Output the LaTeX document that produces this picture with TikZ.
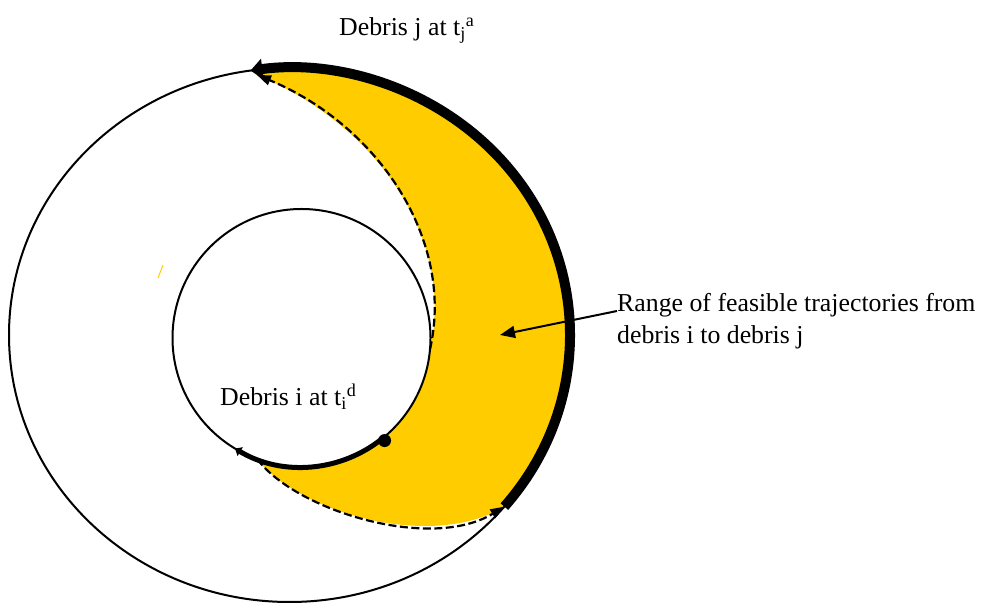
\documentclass[tikz,border=0pt]{standalone}
\usepackage{fontspec}
\setmainfont{Liberation Serif}
\usetikzlibrary{arrows.meta,calc}
\definecolor{rangeyellow}{HTML}{FFCC00}
\definecolor{inkblack}{HTML}{000000}
\tikzset{
  orbit/.style    = {draw=inkblack, line width=2pt},
  window/.style   = {draw=inkblack, line width=10pt},
  depart/.style   = {draw=inkblack, line width=5pt},
  transfer/.style = {draw=inkblack, line width=2.2pt, dash pattern=on 8pt off 3.5pt,
                     -{Triangle[length=14pt,width=10pt]}},
  pointer/.style  = {-{Triangle[length=15pt,width=12pt]}, draw=inkblack, line width=2pt},
  debdot/.style   = {circle, fill=inkblack, minimum size=13pt, inner sep=0pt},
  lbl/.style      = {font=\fontsize{25.8}{32}\selectfont, inner sep=0pt},
}

\begin{document}
\begin{tikzpicture}[x=1pt,y=1pt]
  \useasboundingbox (0,0) rectangle (984,604);
  \coordinate (O) at (289.5,269); % orbit of debris j
  \coordinate (I) at (301.5,266); % orbit of debris i
  \coordinate (jtop) at ([shift={(O)}]98:280.5 and 267);
  \coordinate (jbot) at ([shift={(O)}]-40:280.5 and 267);
  \coordinate (jarr) at (257,529);
  \coordinate (idep1) at ([shift={(I)}]-5:129);
  \coordinate (idep2) at ([shift={(I)}]-110:129);
  % feasible region
  \fill[rangeyellow] (jtop) arc[start angle=98, end angle=-40, x radius=280.5, y radius=267]
    .. controls (430,52) and (295,94) .. (idep2)
    arc[start angle=-110, end angle=-5, radius=129]
    .. controls (455,364) and (378,479) .. (jarr) -- cycle;
  \draw[rangeyellow, line width=1pt] (158,326) -- (163,339);
  \draw[orbit] (O) ellipse[x radius=280.5, y radius=267];
  \draw[orbit] (I) circle[radius=129];
  \draw[window, -{Triangle[length=12pt,width=20pt]}] (jbot)
    arc[start angle=-40, end angle=98, x radius=280.5, y radius=267];
  \draw[depart, -{Triangle[length=6pt,width=10pt]}] ([shift={(I)}]-50:129)
    arc[start angle=-50, end angle=-121, radius=129];
  \node[debdot] (debi) at ([shift={(I)}]-51:132) {};
  \draw[transfer] (idep1) .. controls (455,364) and (378,479) .. (jarr);
  \draw[transfer] (idep2) .. controls (295,94) and (430,52) .. (jbot);
  % labels
  \node[lbl, anchor=base west] (labj) at (339,568)
    {Debris j at t\textsubscript{j}\textsuperscript{a}};
  \node[lbl, anchor=base west] (labi) at (220,198)
    {Debris i at t\textsubscript{i}\textsuperscript{d}};
  \node[lbl, anchor=north west, align=left] (labrange) at (617,311)
    {Range of feasible trajectories from\\debris i to debris j};
  \coordinate (rangetip) at (500,269);
  \draw[pointer] ([yshift=-18pt]labrange.north west) -- (rangetip);
\end{tikzpicture}
\end{document}
